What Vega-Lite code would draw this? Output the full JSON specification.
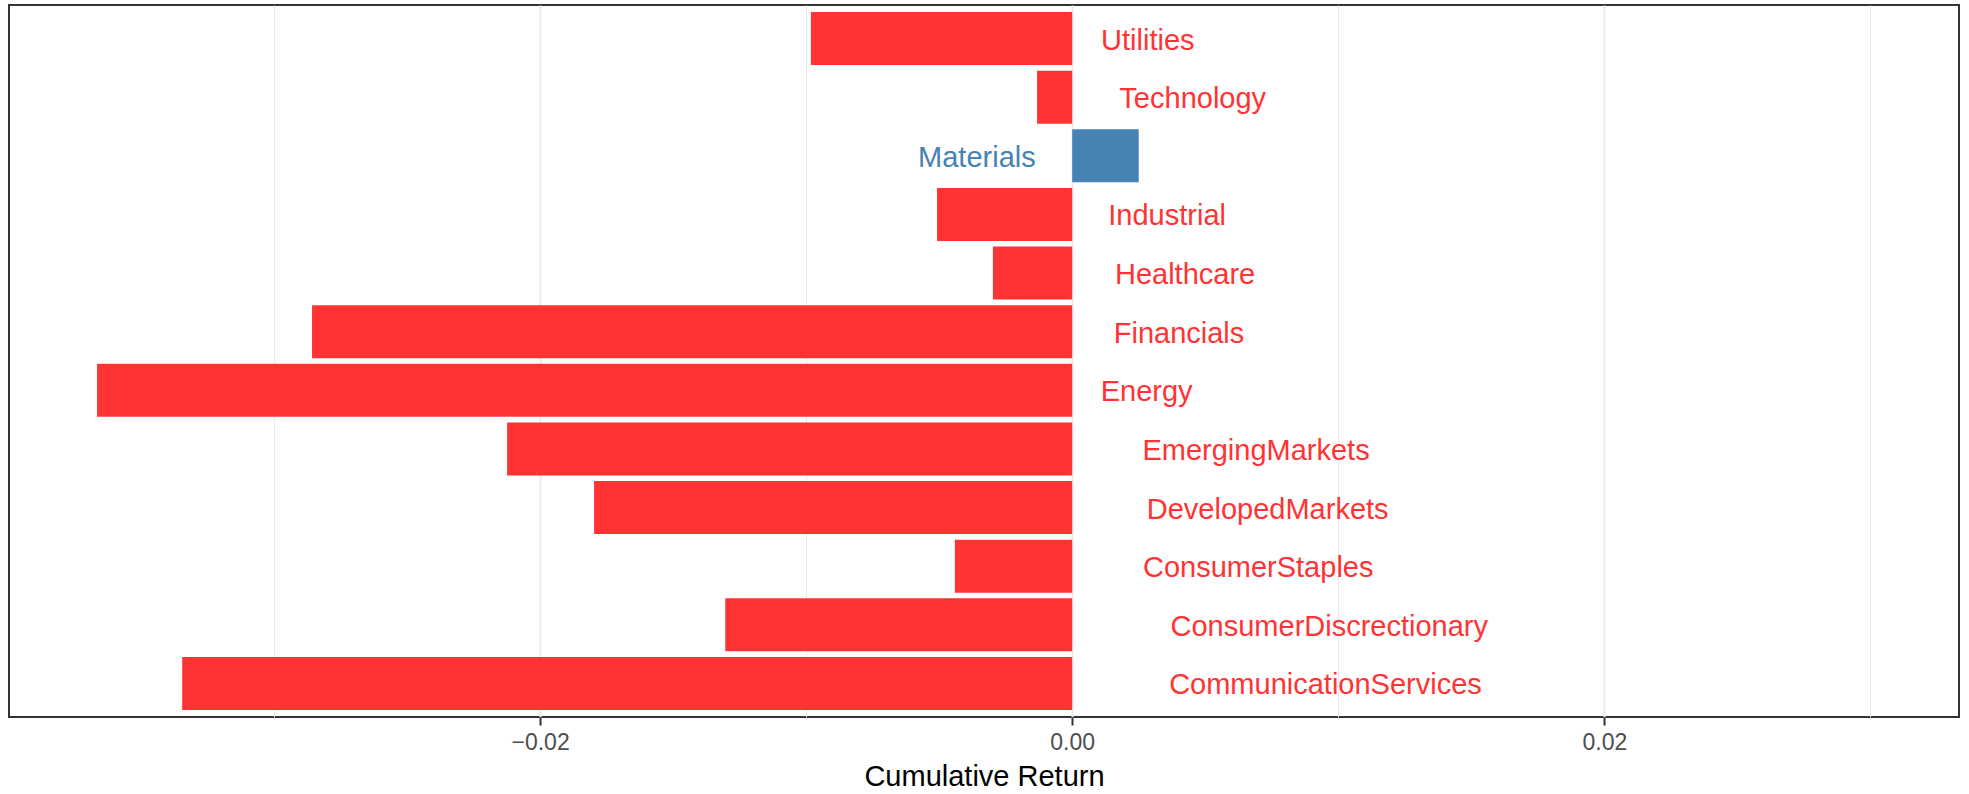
{
  "$schema": "https://vega.github.io/schema/vega-lite/v6.json",
  "width": 1950,
  "height": 712,
  "autosize": {"type": "none"},
  "padding": {"left": 9, "top": 5, "right": 10, "bottom": 77},
  "background": "white",
  "config": {
    "view": {"stroke": "#333333", "strokeWidth": 2},
    "font": "Liberation Sans"
  },
  "data": {
    "values": [
      {"sector": "Utilities", "ret": -0.00982},
      {"sector": "Technology", "ret": -0.00132},
      {"sector": "Materials", "ret": 0.0025},
      {"sector": "Industrial", "ret": -0.00508},
      {"sector": "Healthcare", "ret": -0.00298},
      {"sector": "Financials", "ret": -0.02857},
      {"sector": "Energy", "ret": -0.03665},
      {"sector": "EmergingMarkets", "ret": -0.02124},
      {"sector": "DevelopedMarkets", "ret": -0.01797},
      {"sector": "ConsumerStaples", "ret": -0.00441},
      {"sector": "ConsumerDiscrectionary", "ret": -0.01304},
      {"sector": "CommunicationServices", "ret": -0.03345}
    ]
  },
  "encoding": {
    "y": {
      "field": "sector",
      "type": "nominal",
      "sort": "descending",
      "axis": null,
      "scale": {"paddingInner": 0.095, "paddingOuter": 0.12}
    }
  },
  "layer": [
    {
      "mark": {"type": "bar"},
      "encoding": {
        "x": {
          "field": "ret",
          "type": "quantitative",
          "stack": null,
          "scale": {"domain": [-0.03996, 0.03333], "nice": false, "zero": false},
          "axis": {
            "values": [-0.03, -0.02, -0.01, 0, 0.01, 0.02, 0.03],
            "labelExpr": "datum.value == -0.02 ? '−0.02' : datum.value == 0 ? '0.00' : datum.value == 0.02 ? '0.02' : ''",
            "domain": false,
            "grid": true,
            "gridColor": "#EBEBEB",
            "gridWidth": {"condition": {"test": "abs(datum.value) < 0.001 || abs(abs(datum.value) - 0.02) < 0.001", "value": 2}, "value": 1},
            "ticks": true,
            "tickSize": 8,
            "tickWidth": 2,
            "tickColor": "#333333",
            "tickOpacity": {"condition": {"test": "abs(datum.value) < 0.001 || abs(abs(datum.value) - 0.02) < 0.001", "value": 1}, "value": 0},
            "labelFontSize": 23,
            "labelColor": "#4D4D4D",
            "labelBaseline": "alphabetic",
            "labelPadding": 24,
            "labelFlush": false,
            "labelOverlap": false,
            "title": "Cumulative Return",
            "titleFontSize": 29,
            "titleFontWeight": "normal",
            "titleColor": "#000000",
            "titleBaseline": "alphabetic",
            "titleY": 68
          }
        },
        "x2": {"datum": 0},
        "color": {
          "condition": {"test": "datum.ret > 0", "value": "#4682B4"},
          "value": "#FF3333"
        }
      }
    },
    {
      "mark": {
        "type": "text",
        "fontSize": 29,
        "baseline": "middle",
        "dy": 2,
        "align": {"expr": "datum.ret < 0 ? 'left' : 'right'"},
        "dx": {"expr": "(datum.ret < 0 ? 1 : -1) * 8.8 * (0.556*length(datum.sector) - 0.32*(length(datum.sector)-length(replace(datum.sector, regexp('[iljI]','g'), ''))) - 0.28*(length(datum.sector)-length(replace(datum.sector, regexp('[tf]','g'), ''))) - 0.22*(length(datum.sector)-length(replace(datum.sector, regexp('r','g'), ''))) + 0.28*(length(datum.sector)-length(replace(datum.sector, regexp('[mMw]','g'), ''))) + 0.12*(length(datum.sector)-length(replace(datum.sector, regexp('[A-HJ-LN-Z]','g'), ''))))"}
      },
      "encoding": {
        "x": {"datum": 0, "type": "quantitative"},
        "text": {"field": "sector"},
        "color": {
          "condition": {"test": "datum.ret > 0", "value": "#4682B4"},
          "value": "#FF3333"
        }
      }
    }
  ]
}
